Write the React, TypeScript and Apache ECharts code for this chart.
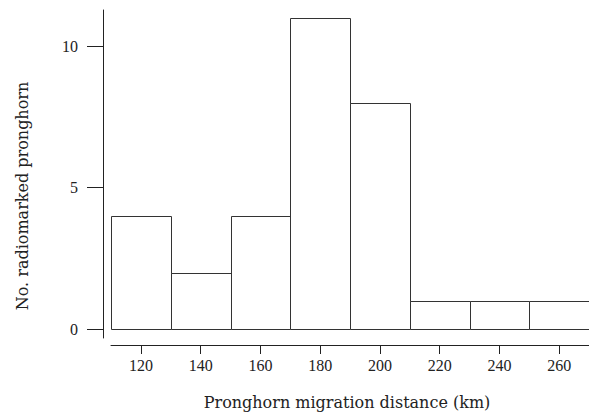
import React, { useEffect, useRef } from "react";
import * as echarts from "echarts";

const binStarts = [110, 130, 150, 170, 190, 210, 230, 250];
const binWidth = 20;
const counts = [4, 2, 4, 11, 8, 1, 1, 1];
const xTicks = [120, 140, 160, 180, 200, 220, 240, 260];
const yTicks = [0, 5, 10];
const xTitle = "Pronghorn migration distance (km)";
const yTitle = "No. radiomarked pronghorn";

const FONT = "'DejaVu Serif', serif";
const NUMFONT = "'Liberation Serif', serif";
const INK = "#222";

export default function App() {
  const ref = useRef<HTMLDivElement>(null);
  useEffect(() => {
    if (!ref.current) return;
    const chart = echarts.init(ref.current, undefined, { renderer: "svg" });
    const data = binStarts.map((s, i) => [s, s + binWidth, counts[i]]);
    const yMax = 11.27;
    chart.setOption({
      animation: false,
      backgroundColor: "#fff",
      grid: [
        { left: 111, right: -2, top: 10, bottom: 68 },
        { left: 103, right: -2, top: 10, bottom: 75 },
      ],
      xAxis: [
        {
          gridIndex: 0,
          type: "value",
          min: 110,
          max: 270,
          axisLine: { show: true, onZero: false, lineStyle: { color: INK, width: 1 } },
          axisTick: { show: true, length: 9, customValues: xTicks, lineStyle: { color: INK } },
          axisLabel: { customValues: xTicks, margin: 12, fontFamily: NUMFONT, fontSize: 16, color: INK },
          splitLine: { show: false },
        },
        {
          gridIndex: 1,
          type: "value",
          min: 0,
          max: 1,
          show: false,
          axisLine: { onZero: false },
        },
      ],
      yAxis: [
        {
          gridIndex: 0,
          type: "value",
          min: -0.547,
          max: yMax,
          show: false,
          axisLine: { onZero: false },
          splitLine: { show: false },
        },
        {
          gridIndex: 1,
          type: "value",
          min: -0.3,
          max: yMax,
          axisLine: { show: true, onZero: false, lineStyle: { color: INK, width: 1 } },
          axisTick: { show: true, length: 16, customValues: yTicks, lineStyle: { color: INK } },
          axisLabel: { customValues: yTicks, margin: 25, fontFamily: NUMFONT, fontSize: 16, color: INK },
          splitLine: { show: false },
        },
      ],
      graphic: [
        {
          type: "text",
          x: 347,
          y: 402,
          style: {
            text: xTitle,
            font: "16px " + FONT,
            fill: INK,
            align: "center",
            verticalAlign: "middle",
          },
        },
        {
          type: "text",
          x: 22,
          y: 196,
          rotation: Math.PI / 2,
          style: {
            text: yTitle,
            font: "16px " + FONT,
            fill: INK,
            align: "center",
            verticalAlign: "middle",
          },
        },
      ],
      series: [
        {
          type: "custom",
          xAxisIndex: 0,
          yAxisIndex: 0,
          data,
          encode: { x: [0, 1], y: 2 },
          renderItem: (params: any, api: any) => {
            const p0 = api.coord([api.value(0), 0]);
            const p1 = api.coord([api.value(1), api.value(2)]);
            return {
              type: "rect",
              shape: {
                x: Math.round(p0[0]) + 0.5,
                y: Math.round(p1[1]) + 0.5,
                width: Math.round(p1[0]) - Math.round(p0[0]),
                height: Math.round(p0[1]) - Math.round(p1[1]),
              },
              style: { fill: "#fff", stroke: "#333", lineWidth: 1 },
            };
          },
        },
      ],
    });
    return () => chart.dispose();
  }, []);
  return <div ref={ref} style={{ width: 589, height: 413, position: "absolute", left: 0, top: 0 }} />;
}
